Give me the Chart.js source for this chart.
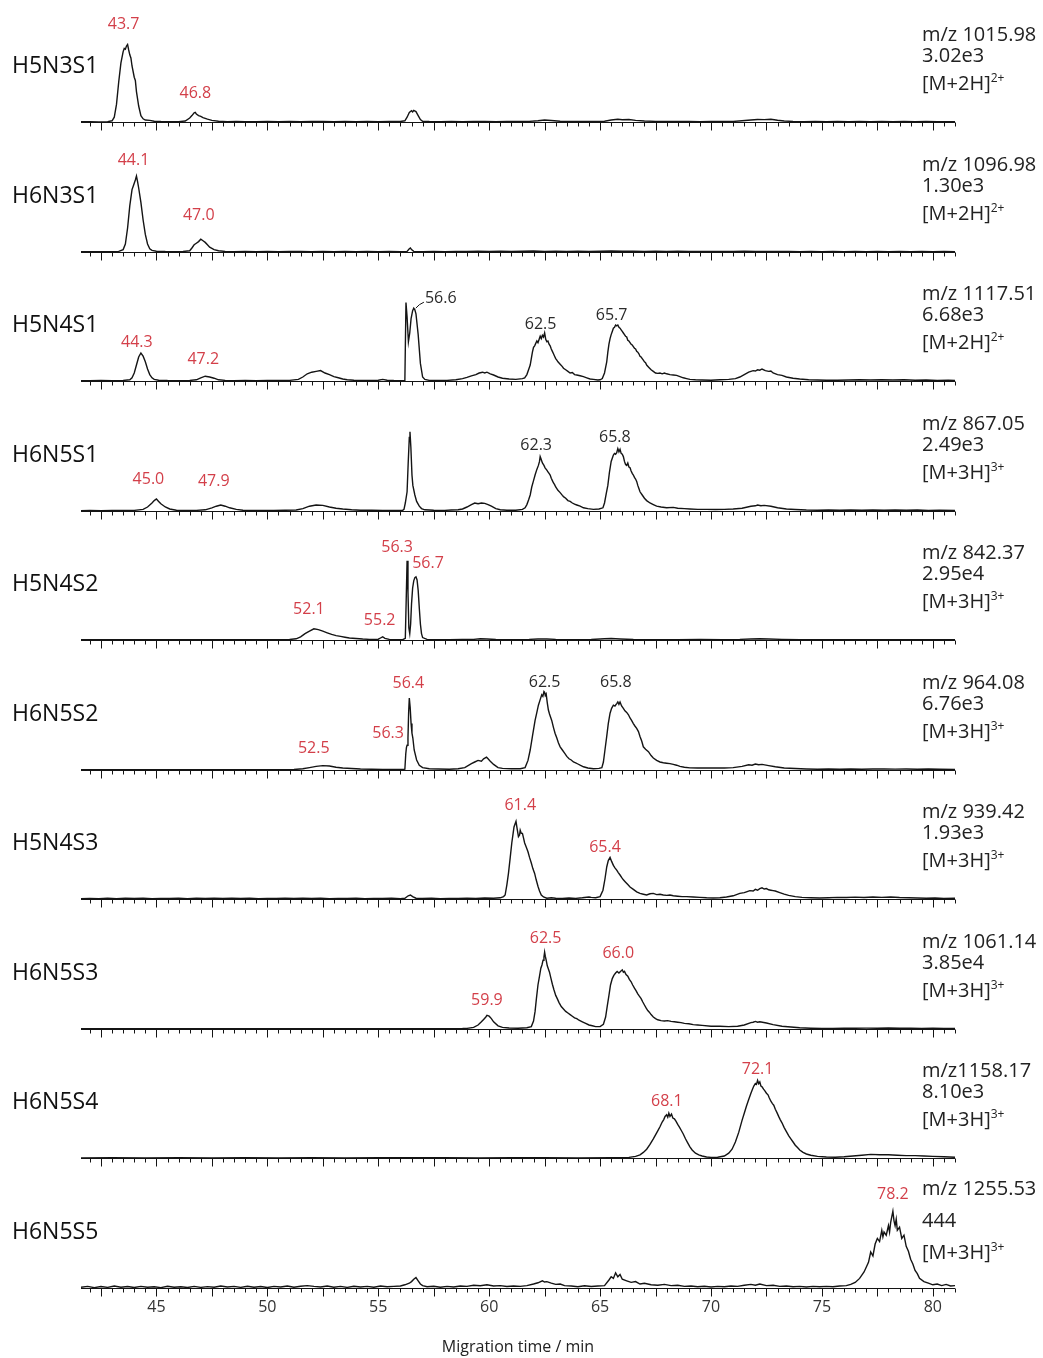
<!DOCTYPE html>
<html>
<head>
<meta charset="utf-8">
<title>Glycan electropherograms</title>
<script src="https://cdn.jsdelivr.net/npm/chart.js@4.4.1/dist/chart.umd.min.js"></script>
<style>
  html, body { margin: 0; padding: 0; background: #fff; overflow: hidden; }
  #fig { position: relative; width: 1043px; height: 1358px; font-family: 'Open Sans', 'Noto Sans', sans-serif; }
  .panel { position: absolute; left: 0; width: 1043px; }
  .panel canvas { display: block; }
  .name { position: absolute; left: 12px; font-size: 23px; line-height: 1; color: #111; white-space: nowrap; }
  .info { position: absolute; left: 922px; font-size: 20px; line-height: 1; color: #222; white-space: nowrap; }
  .info sup { font-size: 12px; vertical-align: baseline; position: relative; top: -8px; }
</style>
</head>
<body>
<div id="fig"></div>
<script>
// ---- labels -------------------------------------------------------------
const glycans = ['H5N3S1', 'H6N3S1', 'H5N4S1', 'H6N5S1', 'H5N4S2',
                 'H6N5S2', 'H5N4S3', 'H6N5S3', 'H6N5S4', 'H6N5S5'];
const mzLabels = ['m/z 1015.98', 'm/z 1096.98', 'm/z 1117.51', 'm/z 867.05', 'm/z 842.37',
                  'm/z 964.08', 'm/z 939.42', 'm/z 1061.14', 'm/z1158.17', 'm/z 1255.53'];
const intensityLabels = ['3.02e3', '1.30e3', '6.68e3', '2.49e3', '2.95e4',
                         '6.76e3', '1.93e3', '3.85e4', '8.10e3', '444'];
const adducts = ['2H', '2H', '2H', '3H', '3H', '3H', '3H', '3H', '3H', '3H'];
const charges = ['2+', '2+', '2+', '3+', '3+', '3+', '3+', '3+', '3+', '3+'];
const tickLabels = [45, 50, 55, 60, 65, 70, 75, 80];
const timeRange = [41.6, 81.0];
const axisTitle = 'Migration time / min';

// ---- traces: [migration time (min), relative intensity (%)] -------------
const h5n3s1 = [[41.6,0.3],[42.0,0.4],[42.4,0.2],[42.8,0.5],[43.0,1.5],[43.1,6],[43.2,22],[43.3,50],[43.4,74],[43.5,88],[43.55,92],[43.6,91],[43.65,95],[43.7,97],[43.75,90],[43.8,84],[43.85,80],[43.9,70],[44.0,56],[44.05,52],[44.1,38],[44.2,20],[44.3,8],[44.4,4],[44.5,2.5],[44.7,2],[44.9,1],[45.2,0.6],[45.6,0.4],[46.0,0.5],[46.3,1.2],[46.5,5],[46.6,8],[46.7,11.5],[46.75,12],[46.8,10],[46.9,8],[47.0,7],[47.1,5.5],[47.3,3.5],[47.5,2],[47.8,1],[48.2,0.5],[48.6,0.6],[49.0,0.4],[49.5,0.5],[50.0,0.7],[50.5,0.4],[51.0,0.6],[51.5,0.5],[52.0,0.8],[52.5,0.6],[53.0,0.5],[53.5,0.7],[54.0,0.5],[54.5,0.6],[55.0,0.5],[55.5,0.7],[56.0,0.6],[56.2,1.5],[56.3,6],[56.4,12],[56.5,14],[56.55,12.5],[56.6,14.5],[56.7,13],[56.8,8],[56.9,3],[57.0,1],[57.3,0.6],[57.8,0.5],[58.3,0.7],[58.8,0.5],[59.3,0.8],[59.8,0.6],[60.3,0.5],[60.8,0.7],[61.3,0.6],[61.8,0.8],[62.2,1.5],[62.5,2.5],[62.8,1.8],[63.2,1],[63.7,0.6],[64.2,0.7],[64.7,0.6],[65.2,1],[65.5,2.5],[65.8,3.5],[66.0,2.8],[66.3,3.2],[66.6,2],[67.0,1.2],[67.5,0.8],[68.0,0.7],[68.5,0.6],[69.0,0.7],[69.5,0.5],[70.0,0.6],[70.5,0.8],[71.0,0.7],[71.4,1.5],[71.8,2.5],[72.1,3.2],[72.4,3],[72.7,3.5],[73.0,2.2],[73.3,1.2],[73.7,0.7],[74.2,0.5],[74.7,0.6],[75.2,0.5],[75.7,0.6],[76.2,0.5],[76.7,0.6],[77.2,0.5],[77.7,0.6],[78.2,0.5],[78.7,0.6],[79.2,0.5],[79.7,0.6],[80.2,0.5],[80.7,0.4],[81.0,0.5]];

const h6n3s1 = [[41.6,0.4],[42.0,0.3],[42.5,0.5],[43.0,0.4],[43.3,0.8],[43.5,3],[43.6,10],[43.7,30],[43.8,58],[43.9,78],[43.95,82],[44.0,86],[44.05,90],[44.1,95],[44.15,88],[44.2,80],[44.3,62],[44.4,40],[44.5,22],[44.6,10],[44.7,4],[44.8,2],[45.0,1],[45.4,0.6],[45.8,0.5],[46.2,0.6],[46.5,1.5],[46.6,5],[46.7,9],[46.8,11],[46.9,13],[47.0,16],[47.1,14],[47.2,12],[47.3,9],[47.4,6],[47.6,3],[47.8,1.5],[48.1,0.7],[48.5,0.5],[49.0,0.6],[49.5,0.4],[50.0,0.7],[50.5,0.5],[51.0,0.6],[51.5,0.8],[52.0,0.5],[52.5,0.7],[53.0,0.5],[53.5,0.6],[54.0,0.5],[54.5,0.7],[55.0,0.5],[55.5,0.6],[56.0,0.5],[56.3,0.8],[56.4,4],[56.45,5],[56.5,3],[56.6,0.8],[57.0,0.5],[57.5,0.7],[58.0,0.5],[58.5,0.8],[59.0,0.6],[59.5,0.9],[60.0,0.6],[60.5,1],[61.0,0.7],[61.5,0.9],[62.0,1.2],[62.5,0.8],[63.0,1],[63.5,0.7],[64.0,0.9],[64.5,0.7],[65.0,1],[65.5,1.2],[66.0,0.9],[66.5,1.1],[67.0,0.8],[67.5,1],[68.0,0.7],[68.5,0.9],[69.0,0.7],[69.5,0.8],[70.0,0.6],[70.5,0.8],[71.0,0.6],[71.5,0.9],[72.0,0.7],[72.5,0.8],[73.0,0.6],[73.5,0.7],[74.0,0.5],[74.5,0.7],[75.0,0.5],[75.5,0.6],[76.0,0.5],[76.5,0.7],[77.0,0.5],[77.5,0.6],[78.0,0.5],[78.5,0.6],[79.0,0.5],[79.5,0.6],[80.0,0.5],[80.5,0.6],[81.0,0.5]];

const h5n4s1 = [[41.6,0.5],[42.0,0.4],[42.5,0.6],[43.0,0.5],[43.5,0.7],[43.8,1.5],[43.9,4],[44.0,10],[44.1,20],[44.2,30],[44.3,35],[44.4,31],[44.5,24],[44.6,15],[44.7,8],[44.8,4],[44.9,2],[45.1,1],[45.5,0.6],[46.0,0.5],[46.5,0.7],[46.8,1.5],[47.0,4],[47.2,6],[47.4,5],[47.6,3.5],[47.8,1.5],[48.1,0.8],[48.5,0.5],[49.0,0.6],[49.5,0.5],[50.0,0.7],[50.5,0.6],[51.0,0.8],[51.4,2],[51.6,5],[51.8,9],[52.0,11],[52.2,12],[52.4,13],[52.6,10],[52.8,8],[53.0,5.5],[53.2,4],[53.4,2.5],[53.6,1.5],[53.9,1],[54.3,0.8],[54.7,0.6],[55.0,1],[55.2,2],[55.4,1],[55.7,0.6],[56.0,0.5],[56.2,0.5],[56.25,98],[56.3,80],[56.36,49],[56.42,60],[56.48,78],[56.55,88],[56.6,91],[56.65,89],[56.7,84],[56.8,58],[56.9,22],[57.0,5],[57.1,2],[57.3,0.8],[57.7,0.6],[58.1,0.8],[58.5,1.5],[58.8,3],[59.0,4.5],[59.2,6.5],[59.4,8],[59.55,10],[59.7,11],[59.8,10],[59.9,11],[60.05,9],[60.2,7.5],[60.4,5],[60.6,3.5],[60.9,2.5],[61.2,2],[61.5,3],[61.6,4],[61.7,8],[61.8,16],[61.85,20],[61.9,28],[61.95,36],[62.0,42],[62.05,44],[62.1,47],[62.15,50],[62.2,48],[62.25,52],[62.3,56],[62.35,53],[62.4,57],[62.45,55],[62.5,60],[62.55,52],[62.6,49],[62.65,50],[62.7,46],[62.75,44],[62.8,40],[62.85,37],[62.9,34],[62.95,31],[63.0,28],[63.05,26],[63.1,24],[63.2,21],[63.3,18],[63.35,16],[63.45,14],[63.55,12],[63.65,10],[63.75,10.5],[63.85,8],[63.95,7.5],[64.1,6.5],[64.25,5.4],[64.4,4],[64.55,2.5],[64.7,2],[64.9,1.2],[65.0,1.5],[65.1,3],[65.2,10],[65.3,24],[65.35,36],[65.4,46],[65.45,53],[65.5,58],[65.55,62],[65.6,66],[65.65,67],[65.7,70],[65.75,69],[65.8,70],[65.85,67],[65.9,66],[65.95,64],[66.0,62],[66.05,60],[66.1,58],[66.15,56],[66.2,55],[66.25,51],[66.3,50],[66.35,48],[66.4,46],[66.45,45],[66.5,43],[66.55,41],[66.6,40],[66.65,37],[66.7,36],[66.75,34],[66.8,31],[66.85,30],[66.9,28],[66.95,26],[67.0,24],[67.05,23],[67.1,20],[67.2,17],[67.3,14],[67.4,12],[67.5,10],[67.6,9.5],[67.7,10],[67.8,9],[67.9,10],[68.0,9],[68.15,8],[68.3,7.5],[68.45,7],[68.6,5.5],[68.75,4],[68.9,3],[69.05,2],[69.3,1.5],[69.6,1.2],[70.0,1],[70.4,1.5],[70.8,2],[71.1,3],[71.3,5],[71.5,8],[71.7,11],[71.9,13],[72.0,12.5],[72.1,14],[72.2,13.5],[72.3,15],[72.45,13],[72.6,12],[72.7,12.5],[72.8,10],[73.0,8],[73.2,7],[73.4,5],[73.7,3.5],[74.0,2.5],[74.4,1.5],[74.8,1.2],[75.2,1],[75.7,1],[76.2,1.2],[76.7,1.5],[77.2,1.3],[77.7,1.5],[78.2,1.2],[78.7,1.5],[79.2,1],[79.7,1.2],[80.2,0.8],[80.7,1],[81.0,0.8]];

const h6n5s1 = [[41.6,0.5],[42.0,0.6],[42.5,0.5],[43.0,0.7],[43.5,0.6],[44.0,0.8],[44.4,2],[44.6,5],[44.8,10],[44.9,13],[45.0,15],[45.1,12],[45.2,9],[45.4,5],[45.6,2.5],[45.9,1],[46.3,0.7],[46.8,0.8],[47.2,1.5],[47.5,4],[47.7,6],[47.9,7.5],[48.1,6],[48.3,4],[48.6,2],[48.9,1],[49.3,0.7],[49.8,0.8],[50.3,0.6],[50.8,0.9],[51.3,1.2],[51.6,3],[51.9,6],[52.2,7.5],[52.5,7],[52.8,5],[53.1,3.5],[53.4,2.5],[53.8,1.5],[54.2,1],[54.7,0.9],[55.2,0.8],[55.7,0.8],[56.1,0.8],[56.16,2],[56.22,10],[56.3,24],[56.35,60],[56.4,92],[56.43,99],[56.47,80],[56.52,45],[56.56,32],[56.65,20],[56.73,12],[56.85,6],[56.95,3],[57.1,1.5],[57.5,1],[58.0,0.8],[58.3,1.2],[58.6,1.5],[58.8,2.5],[59.0,5],[59.2,8],[59.35,10],[59.5,9],[59.65,10],[59.8,9.5],[59.95,8],[60.1,6],[60.3,3],[60.5,1.5],[60.8,1],[61.2,1],[61.5,2],[61.62,4],[61.7,8],[61.78,14],[61.85,20],[61.92,30],[62.0,38],[62.07,45],[62.15,52],[62.22,57],[62.27,62],[62.3,68],[62.34,65],[62.4,60],[62.47,57],[62.52,54],[62.6,51],[62.65,49],[62.7,47],[62.75,45],[62.8,41],[62.85,38],[62.9,35],[62.95,33],[63.0,30],[63.05,28],[63.1,26],[63.2,23],[63.3,19.5],[63.35,18],[63.45,16],[63.55,13],[63.65,12],[63.75,10],[63.85,8.5],[63.95,7.5],[64.1,6],[64.25,4],[64.45,3],[64.7,2],[64.95,2.5],[65.13,4],[65.2,10],[65.28,22],[65.35,32],[65.42,48],[65.5,62],[65.55,66],[65.6,70],[65.65,72],[65.7,71],[65.75,73],[65.8,78],[65.85,74],[65.9,77],[65.95,72],[66.0,71],[66.05,68],[66.1,62],[66.15,58],[66.2,57],[66.25,60],[66.3,55],[66.35,54],[66.4,50],[66.45,47],[66.5,45],[66.55,42],[66.6,40],[66.65,37],[66.7,32],[66.75,28],[66.8,24],[66.9,20],[67.0,16],[67.1,13],[67.25,10],[67.4,8],[67.55,6],[67.75,5],[68.0,4],[68.3,4.5],[68.5,3.5],[68.8,3],[69.05,2.5],[69.4,2],[69.8,2],[70.2,1.8],[70.6,2],[71.0,2.5],[71.4,3.5],[71.8,6],[72.0,6.5],[72.1,7.5],[72.25,6.5],[72.4,7],[72.7,6],[73.0,4],[73.4,2.5],[73.8,1.8],[74.3,1.2],[74.8,1],[75.3,1.2],[75.8,1],[76.3,1.3],[76.8,1],[77.3,1.2],[77.8,1],[78.3,1.3],[78.8,1],[79.3,1.2],[79.8,0.8],[80.3,1],[81.0,0.8]];

const h5n4s2 = [[41.6,0.3],[42.5,0.3],[43.5,0.4],[44.5,0.3],[45.5,0.4],[46.5,0.3],[47.5,0.4],[48.5,0.3],[49.5,0.4],[50.5,0.4],[51.0,0.6],[51.3,1.5],[51.5,4],[51.7,8],[51.9,11],[52.1,14],[52.3,13],[52.5,11],[52.7,9],[52.9,7],[53.1,5.5],[53.3,4.5],[53.5,3.5],[53.7,2.5],[54.0,1.8],[54.3,1.2],[54.6,0.8],[55.0,1],[55.1,2.5],[55.2,4],[55.3,2],[55.5,0.8],[55.8,0.5],[56.1,0.4],[56.22,2],[56.26,50],[56.3,99],[56.34,60],[56.38,15],[56.42,8],[56.46,20],[56.5,45],[56.55,65],[56.6,74],[56.65,78],[56.7,79],[56.75,75],[56.8,62],[56.85,40],[56.9,20],[56.95,8],[57.0,3],[57.2,0.8],[57.6,0.4],[58.2,0.5],[58.8,0.6],[59.3,0.8],[59.6,1.5],[59.9,1.2],[60.3,0.6],[61.0,0.5],[61.8,0.8],[62.2,1.2],[62.6,1.3],[63.0,0.8],[63.8,0.5],[64.6,0.6],[65.2,1.5],[65.5,1.8],[65.9,1.2],[66.5,0.6],[67.5,0.5],[68.5,0.5],[69.5,0.6],[70.5,0.5],[71.3,0.8],[71.8,1.3],[72.2,1.5],[72.6,1.3],[73.2,0.8],[74.0,0.5],[75.0,0.4],[76.0,0.5],[77.0,0.4],[78.0,0.5],[79.0,0.4],[80.0,0.5],[81.0,0.4]];

const h6n5s2 = [[41.6,0.3],[42.5,0.4],[43.5,0.3],[44.5,0.4],[45.5,0.3],[46.5,0.4],[47.5,0.3],[48.5,0.4],[49.5,0.3],[50.5,0.4],[51.2,0.6],[51.6,1.5],[51.9,3],[52.2,4.5],[52.5,5.5],[52.8,5],[53.1,3.5],[53.4,2.5],[53.8,1.8],[54.2,1.3],[54.7,1],[55.2,0.8],[55.7,0.7],[56.1,0.6],[56.2,1],[56.24,20],[56.27,28],[56.3,31],[56.34,40],[56.37,72],[56.4,90],[56.44,78],[56.48,58],[56.52,46],[56.56,40],[56.62,25],[56.73,12.5],[56.85,6],[57.0,3],[57.3,1.5],[57.7,1.2],[58.2,1],[58.6,1.5],[58.9,3],[59.2,8],[59.35,10],[59.5,12],[59.65,11],[59.75,14],[59.88,16],[59.95,14],[60.05,11],[60.2,7],[60.4,3],[60.6,2],[61.0,1.5],[61.4,1.5],[61.62,3],[61.75,12],[61.85,25],[61.95,42],[62.07,62],[62.15,72],[62.22,81],[62.3,88],[62.37,94],[62.42,92],[62.47,98],[62.5,97],[62.53,93],[62.57,95],[62.62,84],[62.67,75],[62.72,70],[62.77,66],[62.82,62],[62.9,53],[62.97,46],[63.05,40],[63.12,34],[63.2,29],[63.3,25],[63.4,21],[63.5,17],[63.6,14],[63.7,12.5],[63.8,10],[63.9,9],[64.0,7.5],[64.1,6],[64.25,4],[64.45,2.5],[64.7,1.5],[64.95,2],[65.08,3],[65.15,10],[65.22,25],[65.3,42],[65.37,58],[65.45,71],[65.52,77],[65.6,81],[65.67,80],[65.75,83],[65.8,85],[65.85,82],[65.9,85],[65.97,80],[66.05,77],[66.12,74],[66.2,72],[66.28,69],[66.35,65],[66.42,62],[66.5,58],[66.57,55],[66.65,52],[66.73,48],[66.8,42],[66.88,36],[66.95,29],[67.05,26],[67.18,23],[67.3,18],[67.4,15],[67.55,12],[67.7,10],[67.85,9],[68.0,8.5],[68.15,8],[68.3,7],[68.45,6],[68.6,4.5],[68.8,3.5],[69.05,2.7],[69.4,2.5],[69.8,2.5],[70.2,2.5],[70.6,2.5],[71.0,3],[71.4,4.5],[71.7,6.5],[71.85,6],[72.0,7.5],[72.15,6.5],[72.3,7],[72.6,5.5],[72.9,4],[73.3,2.5],[73.8,1.8],[74.3,1.3],[74.8,1],[75.3,1.2],[75.8,1],[76.3,1.3],[76.8,1],[77.3,1.2],[77.8,1.4],[78.3,1.1],[78.8,1.3],[79.3,1],[79.8,1.2],[80.3,1],[81.0,0.8]];

const h5n4s3 = [[41.6,0.5],[42.0,0.8],[42.4,0.4],[42.8,0.9],[43.2,0.5],[43.6,1],[44.0,0.6],[44.4,0.9],[44.8,0.5],[45.2,0.8],[45.6,0.6],[46.0,0.9],[46.4,0.5],[46.8,1.1],[47.2,0.6],[47.6,0.9],[48.0,0.7],[48.4,1],[48.8,0.6],[49.2,0.9],[49.6,0.5],[50.0,0.8],[50.4,0.6],[50.8,1],[51.2,0.6],[51.6,0.9],[52.0,0.7],[52.4,1],[52.8,0.5],[53.2,0.8],[53.6,0.6],[54.0,1],[54.4,0.5],[54.8,0.8],[55.2,0.6],[55.6,0.9],[56.0,0.5],[56.2,1],[56.35,4],[56.45,5],[56.55,3],[56.7,1],[57.0,0.6],[57.4,0.9],[57.8,0.5],[58.2,0.8],[58.6,0.6],[59.0,1],[59.4,0.7],[59.8,1.2],[60.2,0.9],[60.5,1.5],[60.65,3],[60.72,5],[60.8,18],[60.87,32],[60.95,52],[61.02,70],[61.08,82],[61.12,90],[61.17,94],[61.21,97],[61.26,88],[61.32,78],[61.37,80],[61.4,86],[61.45,82],[61.5,82],[61.55,76],[61.6,70],[61.67,65],[61.75,59],[61.82,52],[61.9,45],[61.97,38],[62.05,32],[62.12,24],[62.2,16],[62.27,10],[62.35,5],[62.45,2.5],[62.6,1],[62.8,1.5],[63.0,1],[63.3,0.8],[63.6,1.2],[63.9,0.8],[64.2,1.5],[64.5,2.5],[64.6,2],[64.8,1.5],[65.0,3],[65.13,11],[65.22,25],[65.3,40],[65.37,48],[65.45,52],[65.52,47],[65.6,42],[65.67,39],[65.75,36],[65.82,33],[65.9,30],[65.97,27],[66.05,24],[66.15,21],[66.25,18],[66.35,15],[66.5,12],[66.65,9],[66.8,7],[66.95,6],[67.1,5],[67.25,6.5],[67.4,7],[67.55,5.5],[67.7,6],[67.85,5],[68.0,4.5],[68.15,5],[68.3,4],[68.5,3.5],[68.7,3],[68.9,3],[69.2,2.5],[69.5,2],[69.8,1.5],[70.1,1.2],[70.4,1.5],[70.7,2.5],[71.0,4],[71.3,7],[71.5,8],[71.6,9],[71.75,10.5],[71.9,10],[72.0,12],[72.1,11],[72.2,13],[72.3,14],[72.4,12.5],[72.5,13],[72.6,11.5],[72.7,11],[72.8,10.5],[72.9,10],[73.1,8],[73.3,6],[73.5,4.5],[73.8,3],[74.1,2],[74.5,1.5],[74.9,1.2],[75.3,1.5],[75.7,2],[76.1,1.8],[76.5,2.3],[76.9,1.8],[77.3,2.5],[77.7,2],[78.1,2.5],[78.5,1.8],[78.9,1.5],[79.3,1.2],[79.7,1],[80.1,1.2],[80.5,0.8],[81.0,1]];

const h6n5s3 = [[41.6,0.3],[42.5,0.4],[43.5,0.3],[44.5,0.4],[45.5,0.3],[46.5,0.4],[47.5,0.3],[48.5,0.4],[49.5,0.3],[50.5,0.4],[51.5,0.3],[52.5,0.4],[53.5,0.3],[54.5,0.4],[55.5,0.3],[56.5,0.5],[57.5,0.4],[58.3,0.5],[58.8,0.6],[59.0,0.8],[59.3,2],[59.5,5],[59.65,9],[59.75,12],[59.85,15],[59.9,17],[60.0,16],[60.1,13],[60.2,9],[60.4,4],[60.6,2],[60.9,1.2],[61.3,1],[61.7,1.5],[61.9,3],[62.0,10],[62.07,22],[62.13,38],[62.2,55],[62.27,66],[62.33,76],[62.38,80],[62.43,86],[62.47,90],[62.5,96],[62.53,91],[62.57,86],[62.62,79],[62.67,75],[62.72,71],[62.78,64],[62.85,56],[62.92,49],[63.0,42],[63.07,38],[63.15,33],[63.25,28],[63.35,25],[63.45,22],[63.55,20],[63.65,18],[63.75,16],[63.85,14],[63.95,13],[64.05,11],[64.2,9],[64.35,7],[64.5,5],[64.65,4],[64.8,3],[65.0,3],[65.15,6],[65.25,15],[65.32,28],[65.4,42],[65.47,55],[65.55,63],[65.62,67],[65.7,70],[65.77,72],[65.85,70],[65.92,72],[66.0,74],[66.05,71],[66.1,72],[66.17,68],[66.25,66],[66.32,62],[66.4,59],[66.47,55],[66.55,51],[66.62,48],[66.7,44],[66.77,41],[66.85,38],[66.92,34],[67.0,30],[67.08,26],[67.15,23],[67.22,21],[67.3,18],[67.4,15],[67.5,13],[67.6,11.5],[67.75,10.5],[67.9,10],[68.05,10.5],[68.2,9.5],[68.35,9],[68.5,8.5],[68.65,8],[68.8,7],[69.0,6.5],[69.2,5.5],[69.4,5],[69.6,4.5],[70.0,3.5],[70.4,3.5],[70.8,3],[71.2,3.5],[71.5,5],[71.8,8],[71.9,8.5],[72.0,9.5],[72.1,8.5],[72.2,9],[72.5,7.5],[72.8,5.5],[73.2,3.5],[73.6,2.5],[74.0,1.5],[74.5,1],[75.0,0.8],[75.5,0.8],[76.0,1],[76.5,0.9],[77.0,1.1],[77.5,1],[78.0,1.2],[78.5,0.9],[79.0,1],[79.5,0.8],[80.0,0.9],[80.5,0.8],[81.0,0.7]];

const h6n5s4 = [[41.6,0.2],[43.0,0.3],[44.5,0.2],[46.0,0.3],[47.5,0.2],[49.0,0.3],[50.5,0.2],[52.0,0.3],[53.5,0.2],[55.0,0.3],[56.5,0.4],[58.0,0.3],[59.5,0.2],[61.0,0.3],[62.5,0.3],[64.0,0.2],[65.5,0.3],[66.0,0.4],[66.3,0.8],[66.6,2],[66.8,4],[66.95,7],[67.1,11],[67.25,17],[67.4,24],[67.5,29],[67.6,34],[67.7,39],[67.8,45],[67.87,48],[67.93,52],[68.0,54],[68.05,51],[68.1,56],[68.15,52],[68.22,55],[68.28,50],[68.35,49],[68.42,46],[68.5,42],[68.57,39],[68.65,35],[68.75,30],[68.85,24],[68.95,19],[69.05,14],[69.15,10],[69.3,6],[69.45,4],[69.6,2.5],[69.8,1.2],[70.0,0.8],[70.3,1],[70.6,2.5],[70.8,6],[70.95,11],[71.1,20],[71.25,32],[71.4,47],[71.5,56],[71.6,65],[71.7,73],[71.8,81],[71.87,86],[71.93,90],[72.0,93],[72.05,92],[72.1,97],[72.15,93],[72.2,95],[72.25,90],[72.3,89],[72.37,86],[72.43,84],[72.5,81],[72.57,79],[72.63,75],[72.7,71],[72.77,68],[72.83,66],[72.9,61],[72.97,57],[73.05,52],[73.12,48],[73.2,44],[73.3,38],[73.4,33],[73.5,28],[73.6,24],[73.7,20],[73.8,16],[73.9,13],[74.0,10],[74.15,7],[74.3,5],[74.5,3.5],[74.8,2],[75.2,1.2],[75.6,1],[76.0,1.5],[76.4,2.5],[76.8,3.5],[77.2,4.5],[77.6,4],[78.0,4],[78.4,3.5],[78.8,3],[79.2,3],[79.6,2.5],[80.0,2],[80.5,1.5],[81.0,1]];

const h6n5s5 = [[41.6,1],[41.9,2],[42.2,0.5],[42.5,1.8],[42.8,0.8],[43.1,2.5],[43.4,1],[43.7,1.8],[44.0,0.6],[44.3,2],[44.6,1],[44.9,1.5],[45.2,0.5],[45.5,2.2],[45.8,1],[46.1,1.5],[46.4,0.6],[46.7,2],[47.0,0.8],[47.3,1.7],[47.6,1],[47.9,2.5],[48.2,1.2],[48.5,2],[48.8,0.8],[49.1,2.2],[49.4,1],[49.7,1.8],[50.0,0.6],[50.3,2],[50.6,1.2],[50.9,2.5],[51.2,1],[51.5,2.2],[51.8,3],[52.1,2],[52.4,1.2],[52.7,2.4],[53.0,1],[53.3,2],[53.6,0.8],[53.9,2.2],[54.2,1.2],[54.5,2],[54.8,1],[55.1,2.5],[55.4,1.5],[55.7,2],[56.0,2.5],[56.2,4],[56.4,6],[56.5,8],[56.6,11],[56.7,13],[56.8,9],[56.9,5],[57.0,3],[57.2,1.5],[57.5,2.2],[57.8,1],[58.1,2],[58.4,1.2],[58.7,2.5],[59.0,2],[59.3,3.5],[59.6,2.8],[59.9,4],[60.2,2.5],[60.5,3],[60.8,1.8],[61.1,2.5],[61.4,2],[61.7,3],[62.0,5],[62.2,6.5],[62.4,9],[62.5,7.5],[62.6,8],[62.8,6],[63.0,4.5],[63.2,5],[63.4,3],[63.7,2.5],[64.0,1.5],[64.3,2.8],[64.6,1.8],[64.9,2.5],[65.2,3],[65.4,10],[65.5,14],[65.6,12],[65.7,19],[65.8,14],[65.9,17],[66.0,11],[66.2,9],[66.4,7],[66.6,8],[66.8,5],[67.0,6],[67.3,4],[67.6,3.5],[67.9,4.5],[68.2,3],[68.5,3.5],[68.8,2],[69.1,2.5],[69.4,1.5],[69.7,2.2],[70.0,1.2],[70.3,2],[70.6,1.5],[70.9,2.5],[71.2,2],[71.5,3.5],[71.8,4.5],[72.0,3.5],[72.2,5],[72.5,3],[72.8,3.5],[73.1,2],[73.4,2.5],[73.7,1.5],[74.0,2],[74.3,1.2],[74.6,2],[74.9,1.5],[75.2,2],[75.5,1.5],[75.8,2.5],[76.1,3],[76.3,4.5],[76.5,7],[76.7,12],[76.9,20],[77.1,32],[77.2,45],[77.3,40],[77.4,55],[77.5,62],[77.6,58],[77.7,72],[77.75,64],[77.8,70],[77.9,66],[78.0,78],[78.05,70],[78.1,82],[78.2,96],[78.25,84],[78.3,78],[78.35,86],[78.4,72],[78.5,76],[78.6,62],[78.7,66],[78.8,52],[78.9,46],[79.0,36],[79.1,30],[79.2,22],[79.3,18],[79.4,12],[79.6,8],[79.8,6],[80.0,4],[80.2,5],[80.4,3],[80.6,4.5],[80.8,2.5],[81.0,3]];

const traces = [h5n3s1, h6n3s1, h5n4s1, h6n5s1, h5n4s2, h6n5s2, h5n4s3, h6n5s3, h6n5s4, h6n5s5];

// ---- annotated peak migration times ------------------------------------
const redPeaks = [[43.7, 46.8], [44.1, 47.0], [44.3, 47.2], [45.0, 47.9], [56.3, 56.7, 52.1, 55.2],
                  [56.4, 56.3, 52.5], [61.4, 65.4], [62.5, 66.0, 59.9], [72.1, 68.1], [78.2]];
const blackPeaks = [[], [], [56.6, 62.5, 65.7], [62.3, 65.8], [], [62.5, 65.8], [], [], [], []];

// ---- layout ---------------------------------------------------------------
const baselines = [122, 252, 381, 511, 640, 770, 899, 1029, 1158, 1288];
const PLOT_H = 100, TOP_PAD = 22, Y_MAX = 125;
// label nudges [dx, dy] relative to the trace point at the annotated time
const redNudges = [[[-4, -20], [-1, -21]], [[-3, -16], [-2, -24]], [[-4, -11], [-2, -17]],
                   [[-8, -20], [-7, -24]], [[-10, -13], [12, -13], [-5, -19], [-3, -16]],
                   [[-1, -15], [-19, -12], [-9, -17]], [[0, -25], [-4, -12]],
                   [[1, -14], [-4, -16], [0, -15]], [[0, -11], [-2, -12]], [[0, -17]]];
const blackNudges = [[], [], [[27, -10, true], [-4, -9], [-4, -10]], [[-4, -11], [-3, -11]], [],
                     [[0, -10], [-2, -20]], [], [], [], []];
const RED = '#d33f49', DARK = '#2b2b2b', INK = '#141414';

function valueAt(trace, t) {
  for (let k = 1; k < trace.length; k++) {
    const [t0, v0] = trace[k - 1], [t1, v1] = trace[k];
    if (t >= t0 && t <= t1) return v0 + (v1 - v0) * (t - t0) / (t1 - t0);
  }
  return 0;
}

// baseline with half-minute ticks (long every 2.5 min)
const timeAxisPlugin = {
  id: 'timeAxis',
  afterDatasetsDraw(chart) {
    const { ctx, chartArea, scales: { x } } = chart;
    const y0 = Math.round(chartArea.bottom) + 0.5;
    ctx.save();
    ctx.strokeStyle = INK;
    ctx.lineWidth = 1;
    ctx.beginPath();
    ctx.moveTo(x.getPixelForValue(timeRange[0]), y0);
    ctx.lineTo(x.getPixelForValue(timeRange[1]), y0);
    for (let k = Math.ceil(timeRange[0] * 2); k <= Math.floor(timeRange[1] * 2); k++) {
      const px = Math.round(x.getPixelForValue(k / 2)) + 0.5;
      ctx.moveTo(px, y0);
      ctx.lineTo(px, y0 + (k % 5 === 0 ? 8 : 4));
    }
    ctx.stroke();
    ctx.restore();
  }
};

// migration-time tags above peaks
const peakTagPlugin = {
  id: 'peakTags',
  afterDraw(chart, args, opts) {
    const i = opts.panel;
    const { ctx, scales: { x, y } } = chart;
    const trace = traces[i];
    ctx.save();
    ctx.font = '16px "Open Sans", sans-serif';
    ctx.textAlign = 'center';
    ctx.textBaseline = 'middle';
    const groups = [[redPeaks[i], redNudges[i], RED], [blackPeaks[i], blackNudges[i], DARK]];
    groups.forEach(([times, nudges, color]) => {
      times.forEach((t, j) => {
        const [dx, dy, leader] = nudges[j];
        const ax = x.getPixelForValue(t);
        const ay = y.getPixelForValue(valueAt(trace, t));
        const cx = ax + dx, cy = ay + dy;
        const text = t.toFixed(1);
        ctx.fillStyle = color;
        ctx.fillText(text, cx, cy);
        if (leader) {
          const left = cx - ctx.measureText(text).width / 2;
          ctx.strokeStyle = INK;
          ctx.lineWidth = 1;
          ctx.beginPath();
          ctx.moveTo(ax + 2, ay);
          ctx.quadraticCurveTo(left - 6, cy + 6, left - 1, cy + 4);
          ctx.stroke();
        }
      });
    });
    ctx.restore();
  }
};

const fig = document.getElementById('fig');

traces.forEach((trace, i) => {
  const last = i === traces.length - 1;
  const axisH = 80;
  const h = TOP_PAD + PLOT_H + (last ? axisH : 10);
  const wrap = document.createElement('div');
  wrap.className = 'panel';
  wrap.style.top = (baselines[i] - TOP_PAD - PLOT_H) + 'px';
  wrap.style.height = h + 'px';
  const canvas = document.createElement('canvas');
  canvas.width = 1043;
  canvas.height = h;
  canvas.style.width = '1043px';
  canvas.style.height = h + 'px';
  wrap.appendChild(canvas);
  fig.appendChild(wrap);

  const xScale = {
    type: 'linear',
    min: timeRange[0],
    max: timeRange[1],
    display: last
  };
  if (last) {
    Object.assign(xScale, {
      afterBuildTicks: s => { s.ticks = tickLabels.map(v => ({ value: v })); },
      afterFit: s => { s.height = axisH; },
      grid: { drawOnChartArea: false, drawTicks: true, tickLength: 8, color: 'rgba(0,0,0,0)' },
      border: { display: false },
      ticks: { autoSkip: false, maxRotation: 0, padding: 2, color: '#333',
               font: { family: '"Open Sans", sans-serif', size: 16 } },
      title: { display: true, text: axisTitle, color: '#222',
               font: { family: '"Open Sans", sans-serif', size: 16 },
               padding: { top: 0, bottom: 11 } }
    });
  }

  new Chart(canvas, {
    type: 'line',
    data: {
      datasets: [{
        data: trace.map(([t, v]) => ({ x: t, y: v })),
        borderColor: INK,
        borderWidth: 1.4,
        pointRadius: 0,
        tension: 0,
        fill: false
      }]
    },
    options: {
      responsive: false,
      animation: false,
      events: [],
      layout: { padding: { left: 81, right: 88, top: TOP_PAD, bottom: last ? 0 : 10 } },
      plugins: { legend: { display: false }, tooltip: { enabled: false }, peakTags: { panel: i } },
      scales: {
        x: xScale,
        y: { display: false, min: 0, max: Y_MAX }
      }
    },
    plugins: [timeAxisPlugin, peakTagPlugin]
  });

  // glycan composition on the left
  const name = document.createElement('div');
  name.className = 'name';
  name.textContent = glycans[i];
  name.style.top = (baselines[i] - 69) + 'px';
  fig.appendChild(name);

  // m/z, intensity and charge state on the right
  const rows = last ? [-110, -78, -46] : [-98, -77, -49];
  const mz = document.createElement('div');
  mz.className = 'info';
  mz.textContent = mzLabels[i];
  mz.style.top = (baselines[i] + rows[0]) + 'px';
  const inten = document.createElement('div');
  inten.className = 'info';
  inten.textContent = intensityLabels[i];
  inten.style.top = (baselines[i] + rows[1]) + 'px';
  const ion = document.createElement('div');
  ion.className = 'info';
  ion.innerHTML = '[M+' + adducts[i] + ']<sup>' + charges[i] + '</sup>';
  ion.style.top = (baselines[i] + rows[2]) + 'px';
  fig.appendChild(mz);
  fig.appendChild(inten);
  fig.appendChild(ion);
});
</script>
</body>
</html>
